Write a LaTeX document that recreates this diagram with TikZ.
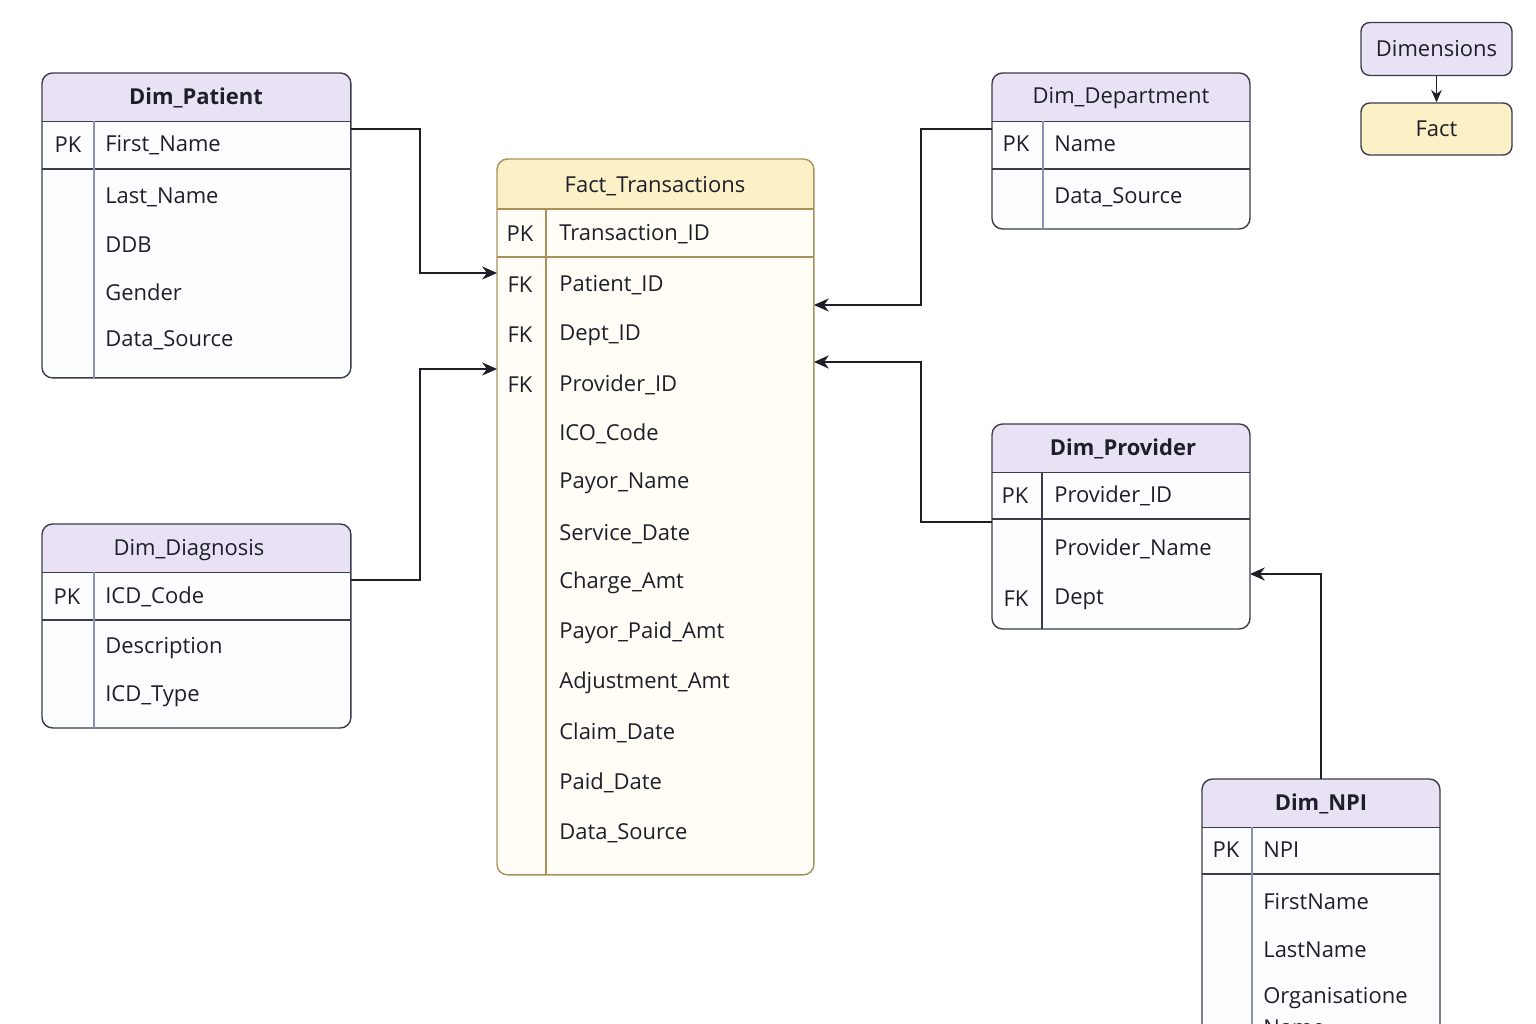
\documentclass[tikz,border=0pt]{standalone}
\usepackage{fontspec}
\setmainfont{Open Sans}
\usepackage{tikz}
\usetikzlibrary{arrows.meta, positioning, calc}
\definecolor{dimHead}{HTML}{E8E2F4}
\definecolor{dimBody}{HTML}{FCFDFE}
\definecolor{dimLine}{HTML}{3C3C4C}
\definecolor{dimKey}{HTML}{8A92AE}
\definecolor{factHead}{HTML}{FBF0C6}
\definecolor{factBody}{HTML}{FFFDF6}
\definecolor{factLine}{HTML}{A8925A}
\definecolor{ink}{HTML}{1F1F29}

\begin{document}
\begin{tikzpicture}[
  x=0.02cm, y=-0.02cm,
  >=Stealth,
  font=\fontsize{12.5}{15}\selectfont,
  text=ink,
  erbox/.style={draw=#1, line width=0.8pt, rounded corners=6pt, inner sep=0pt,
                outer sep=0pt, anchor=north west},
  dimtable/.style={erbox=dimLine, fill=dimBody,
                   path picture={\fill[dimHead, sharp corners] (path picture bounding box.north west)
                     rectangle ([yshift=-0.97cm]path picture bounding box.north east);}},
  facttable/.style={erbox=factLine, fill=factBody,
                    path picture={\fill[factHead, sharp corners] (path picture bounding box.north west)
                      rectangle ([yshift=-1.0cm]path picture bounding box.north east);}},
  title/.style={inner sep=0pt, yshift=-0.04cm},
  key/.style={inner sep=0pt, yshift=-0.04cm},
  field/.style={anchor=west, inner sep=0pt, yshift=-0.04cm},
  rowline/.style={draw=dimLine, line width=0.8pt},
  factrow/.style={draw=factLine, line width=0.8pt},
  keyline/.style={draw=dimKey, line width=0.8pt},
  legendbox/.style={draw=dimLine, line width=0.8pt, rounded corners=5pt, minimum width=3.02cm,
                    minimum height=1.06cm},
  fkline/.style={-{Stealth[length=8.5pt, width=7.5pt]}, line width=0.85pt, draw=ink}
]
\useasboundingbox (0,0) rectangle (1536,1024);

\node[dimtable, minimum width=6.18cm, minimum height=6.10cm] (pat) at (42,73) {};
\draw[rowline] ([yshift=-0.97cm]pat.north west) -- ([yshift=-0.97cm]pat.north east);
\draw[rowline] ([yshift=-1.92cm]pat.north west) -- ([yshift=-1.92cm]pat.north east);
\draw[keyline] ([shift={(1.04cm,-0.97cm)}]pat.north west) -- ([xshift=1.04cm]pat.south west);
\node[title] (pat-title) at (196,96) {\textbf{Dim\_Patient}};
\node[key] (pat-pk) at (68,143) {PK};
\node[field] (pat-f1) at (105,143) {First\_Name};
\node[field] (pat-f2) at (105,195) {Last\_Name};
\node[field] (pat-f3) at (105,243) {DDB};
\node[field] (pat-f4) at (105,290) {Gender};
\node[field] (pat-f5) at (105,338) {Data\_Source};

\node[dimtable, minimum width=6.18cm, minimum height=4.08cm] (diag) at (42,524) {};
\draw[rowline] ([yshift=-0.97cm]diag.north west) -- ([yshift=-0.97cm]diag.north east);
\draw[rowline] ([yshift=-1.92cm]diag.north west) -- ([yshift=-1.92cm]diag.north east);
\draw[keyline] ([shift={(1.04cm,-0.97cm)}]diag.north west) -- ([xshift=1.04cm]diag.south west);
\node[title] (diag-title) at (189,548) {Dim\_Diagnosis};
\node[key] (diag-pk) at (67,595) {PK};
\node[field] (diag-f1) at (105,595) {ICD\_Code};
\node[field] (diag-f2) at (105,646) {Description};
\node[field] (diag-f3) at (105,694) {ICD\_Type};

\node[facttable, minimum width=6.34cm, minimum height=14.32cm] (fact) at (497,159) {};
\draw[factrow] ([yshift=-1.0cm]fact.north west) -- ([yshift=-1.0cm]fact.north east);
\draw[factrow] ([yshift=-1.96cm]fact.north west) -- ([yshift=-1.96cm]fact.north east);
\draw[factrow] ([shift={(0.98cm,-1.0cm)}]fact.north west) -- ([xshift=0.98cm]fact.south west);
\node[title] (fact-title) at (655,184) {Fact\_Transactions};
\node[key] (fact-pk) at (520,232) {PK};
\node[key] (fact-fk1) at (520,283) {FK};
\node[key] (fact-fk2) at (520,333) {FK};
\node[key] (fact-fk3) at (520,383) {FK};
\node[field] (fact-f1) at (559,232) {Transaction\_ID};
\node[field] (fact-f2) at (559,283) {Patient\_ID};
\node[field] (fact-f3) at (559,333) {Dept\_ID};
\node[field] (fact-f4) at (559,383) {Provider\_ID};
\node[field] (fact-f5) at (559,432) {ICO\_Code};
\node[field] (fact-f6) at (559,481) {Payor\_Name};
\node[field] (fact-f7) at (559,532) {Service\_Date};
\node[field] (fact-f8) at (559,581) {Charge\_Amt};
\node[field] (fact-f9) at (559,631) {Payor\_Paid\_Amt};
\node[field] (fact-f10) at (559,681) {Adjustment\_Amt};
\node[field] (fact-f11) at (559,731) {Claim\_Date};
\node[field] (fact-f12) at (559,781) {Paid\_Date};
\node[field] (fact-f13) at (559,831) {Data\_Source};

\node[dimtable, minimum width=5.16cm, minimum height=3.12cm] (dept) at (992,73) {};
\draw[rowline] ([yshift=-0.97cm]dept.north west) -- ([yshift=-0.97cm]dept.north east);
\draw[rowline] ([yshift=-1.92cm]dept.north west) -- ([yshift=-1.92cm]dept.north east);
\draw[keyline] ([shift={(1.02cm,-0.97cm)}]dept.north west) -- ([xshift=1.02cm]dept.south west);
\node[title] (dept-title) at (1121,96) {Dim\_Department};
\node[key] (dept-pk) at (1016,142) {PK};
\node[field] (dept-f1) at (1054,142) {Name};
\node[field] (dept-f2) at (1054,195) {Data\_Source};

\node[dimtable, minimum width=5.16cm, minimum height=4.10cm] (prov) at (992,424) {};
\draw[rowline] ([yshift=-0.97cm]prov.north west) -- ([yshift=-0.97cm]prov.north east);
\draw[rowline] ([yshift=-1.90cm]prov.north west) -- ([yshift=-1.90cm]prov.north east);
\draw[rowline] ([shift={(1.0cm,-0.97cm)}]prov.north west) -- ([xshift=1.0cm]prov.south west);
\node[title] (prov-title) at (1123,447) {\textbf{Dim\_Provider}};
\node[key] (prov-pk) at (1015,494) {PK};
\node[key] (prov-fk) at (1016,597) {FK};
\node[field] (prov-f1) at (1054,494) {Provider\_ID};
\node[field] (prov-f2) at (1054,547) {Provider\_Name};
\node[field] (prov-f3) at (1054,597) {Dept};

\node[dimtable, minimum width=4.76cm, minimum height=6.0cm] (npi) at (1202,779) {};
\draw[rowline] ([yshift=-0.97cm]npi.north west) -- ([yshift=-0.97cm]npi.north east);
\draw[rowline] ([yshift=-1.90cm]npi.north west) -- ([yshift=-1.90cm]npi.north east);
\draw[keyline] ([shift={(1.0cm,-0.97cm)}]npi.north west) -- ([xshift=1.0cm]npi.south west);
\node[title] (npi-title) at (1321,802) {\textbf{Dim\_NPI}};
\node[key] (npi-pk) at (1226,848) {PK};
\node[field] (npi-f1) at (1263,848) {NPI};
\node[field] (npi-f2) at (1263,900) {FirstName};
\node[field] (npi-f3) at (1263,948) {LastName};
\node[field] (npi-f4) at (1263,996) {Organisatione};
\node[field] (npi-f5) at (1263,1026) {Name};

\node[legendbox, fill=dimHead] (leg-dim) at (1436.5,49) {Dimensions};
\node[legendbox, fill=factHead, minimum height=1.04cm] (leg-fact) at (1436.5,129) {Fact};

\draw[fkline] (pat.east |- 0,129) -- (420,129) |- (fact.west |- 0,273);
\draw[fkline] (diag.east |- 0,580) -- (420,580) |- (fact.west |- 0,369);
\draw[fkline] (dept.west |- 0,129) -- (921,129) |- (fact.east |- 0,305);
\draw[fkline] (prov.west |- 0,522) -- (921,522) |- (fact.east |- 0,362);
\draw[fkline] (npi.north) |- (prov.east |- 0,574);
\draw[fkline, -{Stealth[length=7pt, width=6pt]}] (leg-dim) -- (leg-fact);

\end{tikzpicture}
\end{document}
